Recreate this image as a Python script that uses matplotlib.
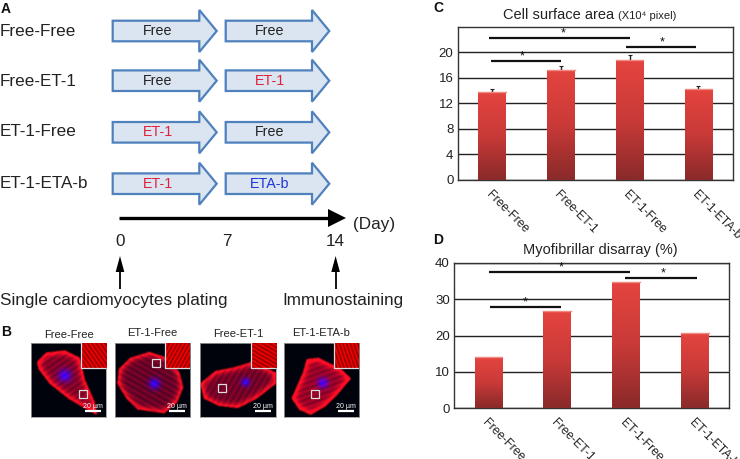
#!/usr/bin/env python3
"""Culture protocol, micrographs and bar panels for the cardiomyocyte figure."""

import matplotlib

matplotlib.use("Agg")
import matplotlib.pyplot as plt
import numpy as np
from matplotlib.colors import LinearSegmentedColormap
from matplotlib.patches import Polygon, Rectangle
from matplotlib.path import Path

plt.rcParams["font.family"] = ["Liberation Sans", "DejaVu Sans"]

W, H = 740, 459

# panel A
groups = ["Free-Free", "Free-ET-1", "ET-1-Free", "ET-1-ETA-b"]
first_step = ["Free", "Free", "ET-1", "ET-1"]
second_step = ["Free", "ET-1", "Free", "ETA-b"]
day_ticks = ["0", "7", "14"]
step_colors = {"Free": "#222222", "ET-1": "#e0203c", "ETA-b": "#1f35d8"}

# panel B
image_titles = ["Free-Free", "ET-1-Free", "Free-ET-1", "ET-1-ETA-b"]

# panel C
area_values = [13.8, 17.2, 18.8, 14.3]
area_errors = [0.5, 0.6, 0.7, 0.4]
area_ticks = [0, 4, 8, 12, 16, 20]
# (x0, x1, y, star x, star y)
area_brackets = [(-0.05, 2.0, 22.2, 1.04, 22.9), (1.95, 2.97, 20.9, 2.48, 21.6), (-0.02, 1.0, 18.7, 0.44, 19.4)]

# panel D
disarray_values = [14.0, 26.6, 34.8, 20.7]
disarray_ticks = [0, 10, 20, 30, 40]
disarray_brackets = [(0.01, 2.05, 37.5, 1.05, 38.6), (1.99, 3.03, 35.9, 2.54, 37.0), (0.03, 1.05, 27.7, 0.53, 29.2)]

bar_cmap = LinearSegmentedColormap.from_list("bar", ["#e4443f", "#c93a38", "#8a2a2a"])


def px_axes(x0, y0, x1, y1):
    return fig.add_axes([x0 / W, 1 - y1 / H, (x1 - x0) / W, (y1 - y0) / H])


def block_arrow(ax, x0, x1, head_x, yc):
    verts = [
        (x0, yc - 10.3), (head_x, yc - 10.3), (head_x, yc - 21), (x1, yc),
        (head_x, yc + 21), (head_x, yc + 10.3), (x0, yc + 10.3),
    ]
    ax.add_patch(Polygon(verts, closed=True, fc="#dbe5f1", ec="#4f81bd", lw=1.6, joinstyle="miter"))


def blur(a, sigma):
    r = int(3 * sigma)
    k = np.exp(-0.5 * (np.arange(-r, r + 1) / sigma) ** 2)
    k /= k.sum()
    a = np.apply_along_axis(lambda v: np.convolve(v, k, mode="same"), 0, a)
    return np.apply_along_axis(lambda v: np.convolve(v, k, mode="same"), 1, a)


def cell_image(outline, nucleus, level, angle, n=150):
    yy, xx = np.mgrid[0:n, 0:n] / (n - 1)
    pts = np.column_stack([xx.ravel(), yy.ravel()])
    mask = Path(outline).contains_points(pts).reshape(n, n).astype(float)
    soft = blur(mask, 1.5)
    edge = np.clip(soft * (1 - blur(mask, 7)) * 2.6, 0, 1)
    t = np.deg2rad(angle)
    fibres = 0.5 + 0.5 * np.sin((xx * np.cos(t) + yy * np.sin(t)) * 90)
    img = np.zeros((n, n, 3))
    img[..., 0] = soft * (level + 0.18 * fibres) + edge * 0.6
    img[..., 1] = 0.01 + edge * 0.05
    img[..., 2] = 0.05 + soft * 0.1
    nx, ny, nr = nucleus
    nuc = np.exp(-((xx - nx) ** 2 + (yy - ny) ** 2) / (2 * nr**2))
    img[..., 2] += nuc * 0.85
    img[..., 0] *= 1 - nuc * 0.5
    return np.clip(img, 0, 1)


def micrograph(x0, x1, title, title_y, outline, nucleus, level, angle, square, inset_x):
    ax = px_axes(x0, 342.5, x1, 416.5)
    ax.imshow(cell_image(outline, nucleus, level, angle), extent=(0, 1, 1, 0), aspect="auto")
    ax.set_xlim(0, 1)
    ax.set_ylim(1, 0)
    ax.set_xticks([])
    ax.set_yticks([])
    for spine in ax.spines.values():
        spine.set_color("#999999")
        spine.set_linewidth(0.6)
    # zoomed inset in the top right corner
    yy, xx = np.mgrid[0:60, 0:60] / 59
    t = np.deg2rad(angle + 90)
    lines = 0.5 + 0.5 * np.sin((xx * np.cos(t) + yy * np.sin(t)) * 45)
    inset = np.zeros((60, 60, 3))
    inset[..., 0] = 0.55 + 0.45 * lines
    ax.imshow(inset, extent=(inset_x, 1, 0.345, 0), aspect="auto", zorder=3)
    ax.plot([inset_x, inset_x, 1], [0, 0.345, 0.345], color="#dddddd", lw=0.9, zorder=4)
    ax.add_patch(Rectangle(square, 0.105, 0.105, fc="none", ec="#dddddd", lw=0.9, zorder=4))
    ax.set_xlim(0, 1)
    ax.set_ylim(1, 0)
    ax.plot([0.72, 0.93], [0.93, 0.93], color="white", lw=1.6, zorder=4, solid_capstyle="butt")
    ax.text(0.83, 0.865, "20 µm", color="white", fontsize=5, ha="center", va="center", zorder=4)
    over.text((x0 + x1) / 2, title_y, title, fontsize=8, ha="center", va="center", color="#222222")


def bar_panel(x0, y0, x1, y1, values, ticks, ymax, brackets, errors=None):
    ax = px_axes(x0, y0, x1, y1)
    pos = np.arange(len(values))
    bars = ax.bar(pos, values, width=0.4, color="#c93a38", zorder=3)
    for bar, value in zip(bars, values):
        left = bar.get_x()
        grad = np.linspace(0, 1, 64).reshape(-1, 1)
        im = ax.imshow(grad, extent=(left, left + bar.get_width(), 0, value), origin="upper",
                       cmap=bar_cmap, aspect="auto", zorder=3.1)
        im.set_clip_path(bar)
        ax.plot([left, left + bar.get_width()], [value, value], color="#f08a80", lw=1.0, zorder=3.2)
    if errors is not None:
        ax.errorbar(pos, values, yerr=[np.zeros(len(errors)), errors], fmt="none", ecolor="#222222",
                    elinewidth=1.0, capsize=1.5, capthick=0.8, zorder=2.5)
    ax.set_xlim(-0.5, len(values) - 0.5)
    ax.set_ylim(0, ymax)
    ax.set_yticks(ticks)
    ax.yaxis.grid(True, color="#222222", lw=1.0, zorder=1)
    ax.set_axisbelow(True)
    ax.tick_params(axis="y", length=0, pad=3, labelsize=9.5, labelcolor="#222222")
    ax.tick_params(axis="x", length=0, pad=6)
    ax.set_xticks(pos)
    ax.set_xticklabels(groups, rotation=-45, ha="left", rotation_mode="anchor", fontsize=8.8, color="#222222")
    for label in ax.get_xticklabels():
        label.set_x(label.get_position()[0])
    for spine in ax.spines.values():
        spine.set_color("#333333")
        spine.set_linewidth(1.0)
    for bx0, bx1, by, sx, sy in brackets:
        ax.plot([bx0, bx1], [by, by], color="#111111", lw=1.6, zorder=4, solid_capstyle="butt", clip_on=False)
        ax.text(sx, sy, "*", fontsize=9, ha="center", va="center", color="#111111", zorder=4)
    return ax


fig = plt.figure(figsize=(W / 100, H / 100), dpi=100)
over = fig.add_axes([0, 0, 1, 1])
over.set_xlim(0, W)
over.set_ylim(H, 0)
over.axis("off")

# panel A
for letter, x, y in [("A", 1, 9), ("B", 1, 332), ("C", 433, 8), ("D", 433, 240)]:
    over.text(x, y, letter, fontsize=10, fontweight="bold", ha="left", va="center", color="#111111")

arrow_rows = [31, 80.7, 132.3, 183.7]
label_rows = [31, 81, 131, 184]
for group, first, second, yc, ly in zip(groups, first_step, second_step, arrow_rows, label_rows):
    over.text(0, ly, group, fontsize=12.3, ha="left", va="center", color="#222222")
    block_arrow(over, 112.7, 216.7, 199.3, yc)
    block_arrow(over, 225.7, 329.3, 312, yc)
    over.text(158, yc, first, fontsize=10.3, ha="center", va="center", color=step_colors[first])
    over.text(270, yc, second, fontsize=10.3, ha="center", va="center", color=step_colors[second])

over.plot([119, 330], [218, 218], color="black", lw=2.4, solid_capstyle="butt")
over.add_patch(Polygon([(328, 209), (346, 218), (328, 227)], closed=True, fc="black", ec="none"))
over.text(352.5, 225, "(Day)", fontsize=12.3, ha="left", va="center", color="#222222")
for label, x in zip(day_ticks, [120, 227, 335.7]):
    over.text(x, 241, label, fontsize=12.3, ha="center", va="center", color="#222222")
for x in [120, 335.6]:
    over.plot([x, x], [270, 289], color="black", lw=1.3, solid_capstyle="butt")
    over.add_patch(Polygon([(x - 4.3, 272), (x, 256), (x + 4.3, 272)], closed=True, fc="black", ec="none"))
over.text(0, 300, "Single cardiomyocytes plating", fontsize=12.3, ha="left", va="center", color="#222222")
over.text(282, 300, "Immunostaining", fontsize=12.3, ha="left", va="center", color="#222222")

# panel B
micrograph(
    31.3, 106, image_titles[0], 335,
    [(0.08, 0.25), (0.2, 0.13), (0.45, 0.1), (0.65, 0.2), (0.72, 0.5), (0.85, 0.8), (0.88, 0.97),
     (0.75, 0.9), (0.5, 0.75), (0.25, 0.55), (0.1, 0.35)],
    (0.45, 0.44, 0.06), 0.42, 55, (0.64, 0.64), 0.665,
)
micrograph(
    114.7, 190, image_titles[1], 333,
    [(0.05, 0.35), (0.2, 0.2), (0.45, 0.12), (0.7, 0.2), (0.85, 0.4), (0.9, 0.6), (0.82, 0.8),
     (0.65, 0.95), (0.3, 0.9), (0.15, 0.75), (0.03, 0.55)],
    (0.52, 0.55, 0.05), 0.32, 120, (0.5, 0.22), 0.67,
)
micrograph(
    200.3, 276, image_titles[2], 334,
    [(0, 0.55), (0.2, 0.38), (0.45, 0.33), (0.7, 0.25), (1, 0.4), (1, 0.55), (0.75, 0.75),
     (0.5, 0.88), (0.25, 0.85), (0.05, 0.75)],
    (0.6, 0.53, 0.04), 0.36, 30, (0.23, 0.56), 0.665,
)
micrograph(
    283.7, 359, image_titles[3], 333,
    [(0.1, 0.75), (0.25, 0.4), (0.3, 0.22), (0.45, 0.2), (0.75, 0.35), (0.88, 0.48), (0.7, 0.7),
     (0.55, 0.85), (0.35, 0.97), (0.2, 0.9)],
    (0.51, 0.54, 0.05), 0.5, 70, (0.36, 0.64), 0.67,
)

# panels C and D
bar_panel(457.7, 26.7, 732.7, 180, area_values, area_ticks, 24, area_brackets, area_errors)
bar_panel(454, 262.7, 729.3, 408.3, disarray_values, disarray_ticks, 40, disarray_brackets)

over.text(503, 15, "Cell surface area", fontsize=10.5, ha="left", va="center", color="#222222")
over.text(618, 16, "(X10⁴ pixel)", fontsize=8, ha="left", va="center", color="#222222")
over.text(600, 250, "Myofibrillar disarray (%)", fontsize=10.5, ha="center", va="center", color="#222222")

fig.savefig("out.png", dpi=100)
